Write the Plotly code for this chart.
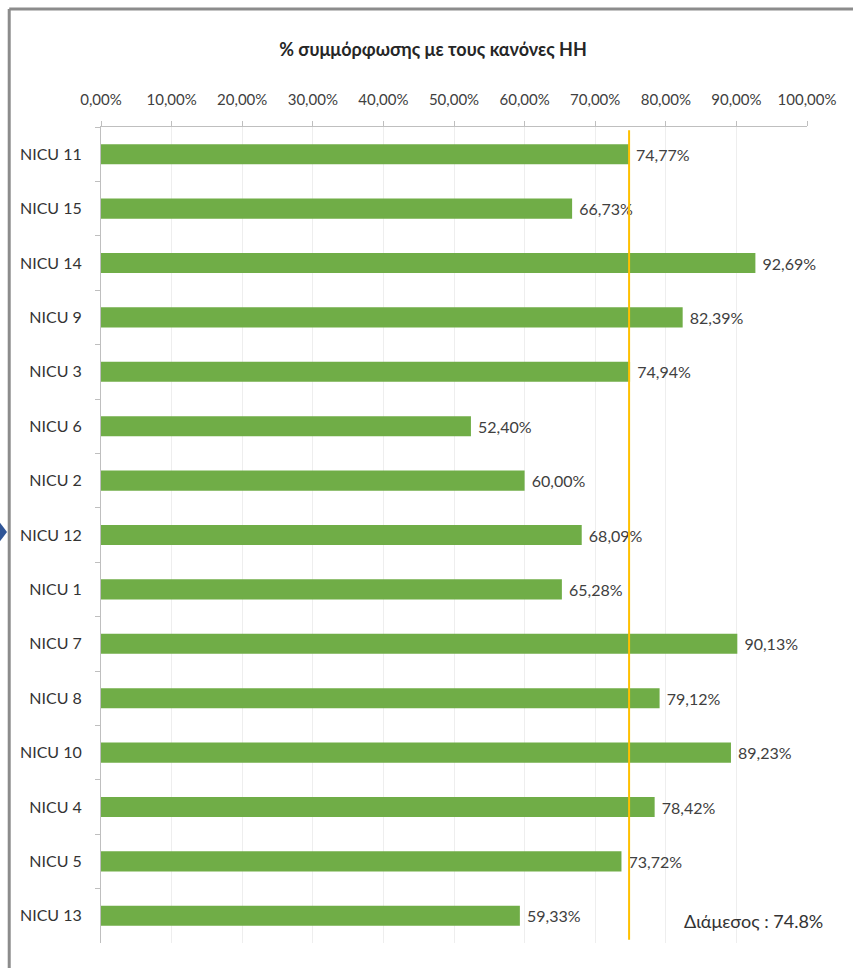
import plotly.graph_objects as go

categories = ["NICU 11", "NICU 15", "NICU 14", "NICU 9", "NICU 3", "NICU 6", "NICU 2",
              "NICU 12", "NICU 1", "NICU 7", "NICU 8", "NICU 10", "NICU 4", "NICU 5", "NICU 13"]
compliance = [74.77, 66.73, 92.69, 82.39, 74.94, 52.40, 60.00,
              68.09, 65.28, 90.13, 79.12, 89.23, 78.42, 73.72, 59.33]
median_value = 74.8
tick_values = [0, 10, 20, 30, 40, 50, 60, 70, 80, 90, 100]
tick_labels = [f"{v:.2f}%".replace(".", ",") for v in tick_values]

FONT = "Lato"

fig = go.Figure()
fig.add_trace(go.Bar(
    y=categories,
    x=compliance,
    orientation="h",
    marker=dict(color="#70AD47", line=dict(width=0)),
    width=0.37,
    texttemplate=" %{x:.2f}%",
    textposition="outside",
    textfont=dict(family=FONT, size=16, color="#404040"),
    cliponaxis=False,
    hoverinfo="skip",
))

fig.add_shape(type="line", xref="x", yref="paper",
              x0=median_value, x1=median_value, y0=0.004, y1=0.996,
              line=dict(color="#FFC000", width=2))

# frame (top and left edges of the pasted picture)
fig.add_shape(type="line", xref="paper", yref="paper",
              x0=-0.130, x1=1.07, y0=1.1446, y1=1.1446,
              line=dict(color="#8c8c8c", width=3))
fig.add_shape(type="line", xref="paper", yref="paper",
              x0=-0.130, x1=-0.130, y0=-0.04, y1=1.1446,
              line=dict(color="#8c8c8c", width=3))
# small blue arrow on the left edge
fig.add_shape(type="path", xref="paper", yref="paper",
              path="M -0.1431 0.5150 L -0.1331 0.5037 L -0.1431 0.4924 Z",
              fillcolor="#2F5597", line=dict(width=0))

fig.add_annotation(text="Διάμεσος : 74.8%", xref="paper", yref="paper",
                   x=(753 - 101) / 706, y=(943 - 921) / 816,
                   xanchor="center", yanchor="middle", showarrow=False,
                   font=dict(family=FONT, size=18, color="#333333"))

fig.update_layout(
    width=853, height=968,
    margin=dict(l=101, r=46, t=127, b=25),
    paper_bgcolor="white", plot_bgcolor="white",
    separators=",.",
    showlegend=False,
    bargap=0.63,
    title=dict(text="<b>% συμμόρφωσης με τους κανόνες HH</b>",
               x=433 / 853, xref="container", xanchor="center",
               y=1 - 50 / 968, yref="container", yanchor="middle",
               font=dict(family=FONT, size=18, color="#262626")),
    xaxis=dict(
        side="top", range=[0, 100], tickvals=tick_values, ticktext=tick_labels,
        tickfont=dict(family=FONT, size=15, color="#404040"),
        showgrid=True, gridcolor="#eeeeee", gridwidth=1,
        showline=True, linecolor="#bfbfbf", linewidth=1,
        ticks="outside", ticklen=5, tickcolor="#bfbfbf",
        zeroline=False, ticklabelstandoff=10,
    ),
    yaxis=dict(
        autorange="reversed",
        tickfont=dict(family=FONT, size=16, color="#333333"),
        showline=True, linecolor="#bfbfbf", linewidth=1,
        ticks="outside", ticklen=5, tickcolor="#bfbfbf",
        tickson="boundaries", showgrid=False,
        ticklabelstandoff=15,
    ),
)

fig.write_html("out.html", config={"displayModeBar": False},
               post_script="document.body.style.margin='0';document.body.style.overflow='hidden';")
